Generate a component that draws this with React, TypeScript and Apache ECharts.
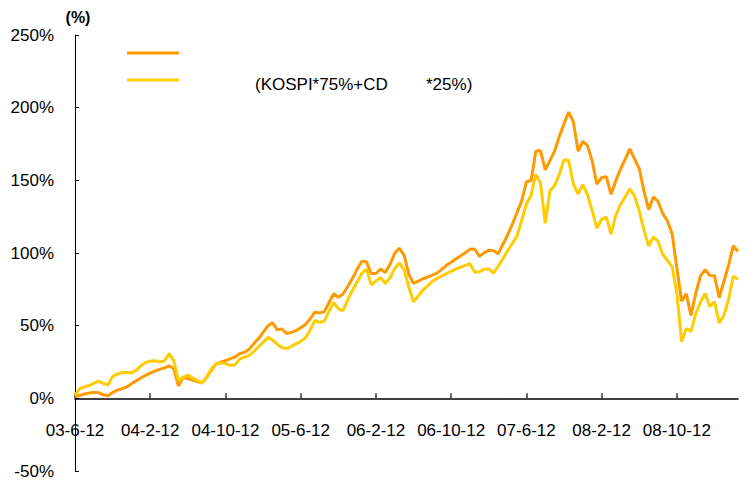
import React, { useEffect, useRef } from 'react';
import * as echarts from 'echarts';

// Half-monthly observation dates starting 2003-06-12 (labels shown every 8 months)
const startYear = 2003;
const startMonth = 6;
const pointCount = 142;

// Fund cumulative return (%)
const fundReturns = [
  1, 2.0, 3.0, 3.6, 4.1, 3.9, 2.4, 1.8, 4.0, 5.6,
  6.7, 7.8, 10.0, 12.1, 14.0, 15.8, 17.4, 18.8, 19.9, 21.0,
  22.4, 20.5, 8.5, 14.5, 13.6, 12.5, 11.6, 10.8, 14.4, 19.3,
  23.5, 24.9, 26.0, 27.1, 28.4, 30.7, 31.6, 33.6, 37.5, 41.0,
  45.4, 49.8, 52.0, 47.1, 47.8, 44.6, 45.4, 46.6, 48.6, 50.8,
  54.6, 59.3, 58.8, 59.5, 65.8, 71.9, 69.6, 71.8, 77.0, 82.5,
  88.8, 94.4, 93.9, 85.9, 85.9, 89.0, 86.6, 92.2, 99.8, 103.3,
  98.3, 85.3, 79.1, 80.7, 82.3, 83.5, 84.8, 86.1, 88.8, 91.5,
  93.7, 95.8, 98.0, 100.2, 102.5, 102.8, 97.7, 100.1, 101.9, 101.6,
  99.5, 106.0, 112.4, 119.7, 127.7, 135.9, 149.0, 149.9, 170.0, 170.5,
  157.2, 163.6, 170.2, 180.2, 189.0, 197.0, 190.0, 170.0, 176.9, 173.9,
  163.0, 147.3, 152.0, 152.5, 140.4, 149.6, 157.6, 164.4, 171.7, 164.7,
  158.1, 142.6, 129.8, 138.6, 135.4, 127.2, 122.0, 113.0, 89.7, 67.0,
  72.0, 57.0, 72.0, 84.1, 88.6, 84.5, 84.4, 69.3, 80.4, 91.6,
  105.0, 101.0,
];

// Benchmark (KOSPI*75% + CD*25%) cumulative return (%)
const benchmarkReturns = [
  2, 6.6, 7.8, 8.8, 10.3, 11.9, 10.3, 9.2, 15.0, 16.7,
  17.8, 17.9, 17.5, 19.2, 22.3, 24.7, 25.5, 25.9, 25.1, 25.7,
  30.8, 26.0, 12.1, 14.5, 16.0, 13.9, 12.3, 10.5, 14.5, 20.3,
  23.7, 24.4, 23.9, 22.7, 23.0, 27.0, 28.3, 29.4, 32.2, 35.4,
  38.5, 41.9, 40.2, 37.2, 35.0, 34.2, 35.8, 37.5, 39.2, 41.6,
  46.9, 53.4, 52.4, 52.9, 59.7, 66.0, 61.5, 60.4, 67.7, 74.3,
  80.1, 85.9, 89.0, 78.1, 80.7, 83.1, 79.0, 83.0, 89.4, 93.1,
  88.4, 76.4, 66.5, 70.5, 74.5, 77.3, 80.5, 82.5, 84.2, 85.9,
  87.4, 89.0, 90.2, 91.5, 92.7, 86.8, 87.1, 88.9, 89.0, 86.1,
  90.9, 96.1, 101.5, 106.6, 111.6, 122.6, 133.7, 139.9, 154.1, 148.2,
  120.5, 142.6, 146.3, 154.0, 164.1, 163.7, 147.3, 140.6, 147.0, 140.2,
  129.0, 116.9, 123.2, 124.7, 113.0, 125.8, 133.4, 138.5, 144.2, 139.2,
  129.0, 115.9, 104.8, 111.1, 107.9, 99.0, 95.0, 90.5, 72.4, 39.0,
  48.0, 46.0, 58.0, 66.0, 72.1, 63.2, 66.5, 51.9, 56.9, 68.0,
  84.0, 82.0,
];

const legendNote = ['(KOSPI*75%+CD', '*25%)'];
const yUnit = '(%)';
const yMin = -50;
const yMax = 250;

const categories: string[] = [];
for (let i = 0; i < pointCount; i++) {
  const m = startMonth - 1 + Math.floor(i / 2);
  const y = startYear + Math.floor(m / 12);
  const mon = (m % 12) + 1;
  const day = i % 2 === 0 ? 12 : 27;
  categories.push(`${String(y % 100).padStart(2, '0')}-${mon}-${day}`);
}

const FONT = '"Liberation Sans", Arial, sans-serif';
const ORANGE = '#FF9900';
const YELLOW = '#FFCC00';

const GRID_TOP = 35;
const GRID_BOTTOM = 10;
const CHART_H = 481;
const gridH = CHART_H - GRID_TOP - GRID_BOTTOM;
// move the category axis (line, ticks, labels) up to the 0% level
const zeroOffset = -(gridH * (0 - yMin)) / (yMax - yMin);

export default function App() {
  const ref = useRef<HTMLDivElement>(null);
  useEffect(() => {
    if (!ref.current) return;
    const chart = echarts.init(ref.current, null, { renderer: 'svg' });
    chart.setOption({
      animation: false,
      backgroundColor: '#ffffff',
      textStyle: { fontFamily: FONT },
      grid: {
        left: 75, right: 13, top: GRID_TOP, bottom: GRID_BOTTOM,
        containLabel: false, outerBoundsMode: 'none',
      },
      xAxis: {
        type: 'category',
        data: categories,
        boundaryGap: false,
        position: 'bottom',
        offset: zeroOffset,
        axisLine: { onZero: false, lineStyle: { color: '#000', width: 1.5 } },
        axisTick: { show: true, inside: true, length: 5, interval: 15, lineStyle: { color: '#333', width: 1.5 } },
        axisLabel: { interval: 15, margin: 24, color: '#000', fontSize: 17, fontFamily: FONT },
        splitLine: { show: false },
      },
      yAxis: {
        type: 'value',
        min: yMin,
        max: yMax,
        interval: 50,
        name: yUnit,
        nameLocation: 'end',
        nameGap: 10,
        nameTextStyle: { color: '#000', fontSize: 16, fontWeight: 'bold', fontFamily: FONT, padding: [0, 0, 0, 6] },
        axisLine: { show: true, lineStyle: { color: '#000', width: 1 } },
        axisTick: { show: true, inside: true, length: 4, lineStyle: { color: '#000' } },
        axisLabel: { formatter: '{value}%', margin: 21, color: '#000', fontSize: 17, fontFamily: FONT },
        splitLine: { show: false },
      },
      series: [
        {
          name: 'fund',
          type: 'line',
          data: fundReturns,
          showSymbol: false,
          symbol: 'none',
          lineStyle: { color: ORANGE, width: 3 },
          itemStyle: { color: ORANGE },
        },
        {
          name: 'benchmark',
          type: 'line',
          data: benchmarkReturns,
          showSymbol: false,
          symbol: 'none',
          lineStyle: { color: YELLOW, width: 3 },
          itemStyle: { color: YELLOW },
        },
      ],
      graphic: [
        { type: 'line', shape: { x1: 127, y1: 53, x2: 179, y2: 53 }, style: { stroke: ORANGE, lineWidth: 3 } },
        { type: 'line', shape: { x1: 127, y1: 80, x2: 179, y2: 80 }, style: { stroke: YELLOW, lineWidth: 3 } },
        {
          type: 'text', left: 255, top: 76,
          style: { text: legendNote[0], fill: '#000', fontSize: 17, fontFamily: FONT },
        },
        {
          type: 'text', left: 426, top: 76,
          style: { text: legendNote[1], fill: '#000', fontSize: 17, fontFamily: FONT },
        },
      ],
    });
    return () => chart.dispose();
  }, []);
  return (
    <div
      ref={ref}
      style={{ position: 'fixed', left: 0, top: 0, width: 751, height: 481, background: '#fff' }}
    />
  );
}
